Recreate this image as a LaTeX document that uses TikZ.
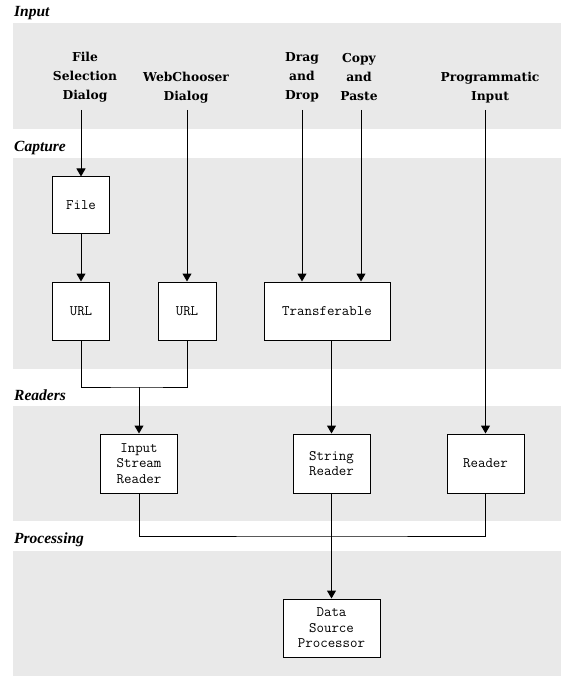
\documentclass[tikz,border=0pt]{standalone}
\usepackage{fontspec}
\setmainfont{Liberation Serif}
\newfontfamily\inpfont{DejaVu Serif}
\usetikzlibrary{arrows.meta}
\definecolor{bandgray}{RGB}{233,233,233}
\begin{document}
\begin{tikzpicture}[x=1pt,y=-1pt,
  band/.style={fill=bandgray,draw=none},
  seclabel/.style={anchor=west,inner sep=0pt,font=\fontsize{15.5}{17}\selectfont\bfseries\itshape},
  inlabel/.style={align=center,inner sep=0pt,font=\inpfont\fontsize{12.3}{19}\selectfont\bfseries},
  boxnode/.style={draw=black,line width=1pt,fill=white,align=center,inner sep=0pt,
    font=\ttfamily\fontsize{14.5}{15.5}\selectfont},
  conn/.style={line width=1pt,draw=black},
  arr/.style={conn,-{Triangle[width=9pt,length=8pt]}}
]
\useasboundingbox (0,0) rectangle (568,684);
\fill[white] (0,0) rectangle (568,684);
% bands
\path[band] (12.5,23) rectangle (561,129);
\path[band] (12.5,158) rectangle (561,369);
\path[band] (12.5,406) rectangle (561,521);
\path[band] (12.5,551) rectangle (561,676);
% section labels
\node[seclabel] (lInput) at (14,13) {Input};
\node[seclabel] (lCapture) at (14,148) {Capture};
\node[seclabel] (lReaders) at (14,395) {Readers};
\node[seclabel] (lProc) at (14,540) {Processing};
% input labels
\node[inlabel] (fsd) at (85,77) {File\\Selection\\Dialog};
\node[inlabel] (wcd) at (186,88) {WebChooser\\Dialog};
\node[inlabel] (dnd) at (302,77) {Drag\\and\\Drop};
\node[inlabel] (cnp) at (359,77) {Copy\\and\\Paste};
\node[inlabel] (prog) at (490,88) {Programmatic\\Input};
\coordinate (fsdS) at (81,110);
\coordinate (wcdS) at (187,110);
\coordinate (dndS) at (302,110);
\coordinate (cnpS) at (361,110);
\coordinate (progS) at (485.5,110);
% boxes
\node[boxnode,minimum width=57pt,minimum height=57pt] (file) at (81,205.5) {File};
\node[boxnode,minimum width=57pt,minimum height=58pt] (url1) at (81,311) {URL};
\node[boxnode,minimum width=58pt,minimum height=58pt] (url2) at (187,311) {URL};
\node[boxnode,minimum width=126pt,minimum height=58pt] (transf) at (327,311) {Transferable};
\node[boxnode,minimum width=77pt,minimum height=59pt] (isr) at (139,463.5) {Input\\Stream\\Reader};
\node[boxnode,minimum width=77pt,minimum height=59pt] (sr) at (331.5,463.5) {String\\Reader};
\node[boxnode,minimum width=77pt,minimum height=59pt] (rdr) at (485.5,463.5) {Reader};
\node[boxnode,minimum width=97pt,minimum height=58pt] (dsp) at (331.5,628) {Data\\Source\\Processor};
\coordinate (merge) at (139,387);
\coordinate (join) at (331.5,536);
% connectors
\draw[arr] (fsdS) -- (file.north);
\draw[arr] (file.south) -- (url1.north);
\draw[arr] (wcdS) -- (url2.north);
\draw[arr] (dndS) -- (dndS |- transf.north);
\draw[arr] (cnpS) -- (cnpS |- transf.north);
\draw[arr] (progS) -- (rdr.north);
\draw[conn] (url1.south) |- (merge) -| (url2.south);
\draw[arr] (merge) -- (isr.north);
\draw[arr] (sr.north |- transf.south) -- (sr.north);
\draw[conn] (isr.south) |- (join) -| (rdr.south);
\draw[arr] (sr.south) -- (dsp.north);
\end{tikzpicture}
\end{document}
